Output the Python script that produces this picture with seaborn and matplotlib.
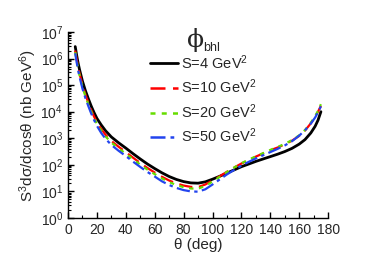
import pandas as pd
import seaborn as sns
import matplotlib.pyplot as plt
from matplotlib.ticker import MultipleLocator, LogLocator, NullFormatter

sns.set_style("ticks")
plt.rcParams['font.family'] = ['Liberation Sans', 'DejaVu Sans']
plt.rcParams['mathtext.fontset'] = 'custom'
plt.rcParams['mathtext.rm'] = 'Liberation Sans'
plt.rcParams['mathtext.it'] = 'Liberation Sans:italic'

# values (nb GeV^6)
theta = [5, 6, 7, 8, 10, 12, 14, 16, 18, 20, 23, 26, 30, 35, 40, 45, 50, 55,
         60, 65, 70, 75, 80, 85, 90, 95, 100, 105, 110, 115, 120, 125, 130,
         135, 140, 145, 150, 155, 160, 164, 168, 171, 173, 175]

s4 = [2.82e6, 1.32e6, 6.76e5, 3.80e5, 1.41e5, 6.31e4, 3.16e4, 1.66e4, 9.33e3,
      5.62e3, 3.16e3, 1.91e3, 1.12e3, 676, 427, 263, 166, 107, 72.4, 50.1,
      36.3, 28.2, 23.4, 20.9, 20.4, 22.9, 28.8, 37.2, 49.0, 64.6, 85.1, 107,
      135, 166, 204, 251, 316, 417, 603, 891, 1.58e3, 2.82e3, 4.79e3, 1.0e4]
s10 = [2.0e6, 9.33e5, 4.79e5, 2.69e5, 1.0e5, 4.47e4, 2.24e4, 1.17e4, 6.61e3,
       3.98e3, 2.24e3, 1.35e3, 794, 479, 302, 186, 117, 75.9, 51.3, 35.5,
       25.7, 20.0, 16.6, 14.8, 14.5, 18.2, 25.7, 37.2, 55.0, 79.4, 112, 151,
       204, 269, 355, 447, 589, 813, 1.23e3, 1.95e3, 3.63e3, 6.46e3, 1.0e4,
       1.66e4]
s20 = [1.74e6, 8.13e5, 4.17e5, 2.34e5, 8.71e4, 3.89e4, 1.95e4, 1.02e4, 5.75e3,
       3.47e3, 1.95e3, 1.17e3, 692, 417, 263, 162, 102, 66.1, 44.7, 30.9,
       22.4, 17.4, 14.5, 12.9, 12.6, 16.2, 23.4, 35.5, 53.7, 79.4, 115, 155,
       209, 275, 363, 468, 617, 851, 1.29e3, 2.04e3, 3.80e3, 6.92e3, 1.07e4,
       1.91e4]
s50 = [1.58e6, 7.24e5, 3.63e5, 2.04e5, 7.41e4, 3.31e4, 1.66e4, 8.71e3, 4.90e3,
       2.95e3, 1.58e3, 955, 562, 339, 214, 132, 83.2, 53.7, 36.3, 24.0, 17.4,
       13.5, 11.2, 10.0, 9.77, 12.0, 18.2, 28.2, 43.7, 64.6, 93.3, 129, 174,
       229, 302, 398, 537, 776, 1.26e3, 2.0e3, 3.55e3, 6.03e3, 9.55e3, 1.58e4]

labels = ["S=4 GeV$^2$", "S=10 GeV$^2$", "S=20 GeV$^2$", "S=50 GeV$^2$"]

rows = []
for lab, vals in zip(labels, [s4, s10, s20, s50]):
    for t, v in zip(theta, vals):
        rows.append({"theta": t, "xs": v, "S": lab})
df = pd.DataFrame(rows)

palette = dict(zip(labels, ["black", "#ff0000", "#66dd00", "#2244ee"]))
dashes = dict(zip(labels, ["", (6, 3), (2, 2.5), (6, 2, 1.5, 2)]))

fig = plt.figure(figsize=(3.82, 2.62), dpi=100)
ax = fig.add_axes([0.178, 0.168, 0.681, 0.71])

sns.lineplot(data=df, x="theta", y="xs", hue="S", style="S",
             palette=palette, dashes=dashes, linewidth=1.6, ax=ax)
ax.lines[0].set_linewidth(2.0)

ax.set_yscale("log")
ax.set_xlim(0, 180)
ax.set_ylim(1, 1e7)
ax.xaxis.set_major_locator(MultipleLocator(20))
ax.xaxis.set_minor_locator(MultipleLocator(10))
ax.yaxis.set_major_locator(LogLocator(base=10, numticks=10))
ax.yaxis.set_minor_locator(LogLocator(base=10, subs=range(2, 10), numticks=20))
ax.yaxis.set_minor_formatter(NullFormatter())
ax.tick_params(which="both", direction="in", labelsize=10, color="black")
ax.tick_params(which="major", length=4, width=1)
ax.tick_params(which="minor", length=2, width=0.8)
sns.despine(ax=ax)
for sp in ["left", "bottom"]:
    ax.spines[sp].set_color("black")
    ax.spines[sp].set_linewidth(1)

ax.set_xlabel("θ (deg)", fontsize=11, labelpad=1)
ax.set_ylabel("S$^3$dσ/dcosθ (nb GeV$^6$)", fontsize=11, labelpad=1)

handles, labs = ax.get_legend_handles_labels()
for h in handles:
    h.set_linewidth(1.8)
handles[0].set_linewidth(2.0)
ax.legend(handles, labs, frameon=False, loc="upper left",
          bbox_to_anchor=(150 / 382, 1 - 53 / 262),
          bbox_transform=fig.transFigure, borderpad=0, borderaxespad=0,
          fontsize=10.5, handlelength=1.9, handletextpad=0.25,
          labelspacing=0.41)

fig.text(187 / 382, 1 - 47 / 262, "ϕ", fontsize=18, family="DejaVu Serif")
fig.text(203 / 382, 1 - 51 / 262, "bhl", fontsize=9)

fig.savefig("out.png", dpi=100)
